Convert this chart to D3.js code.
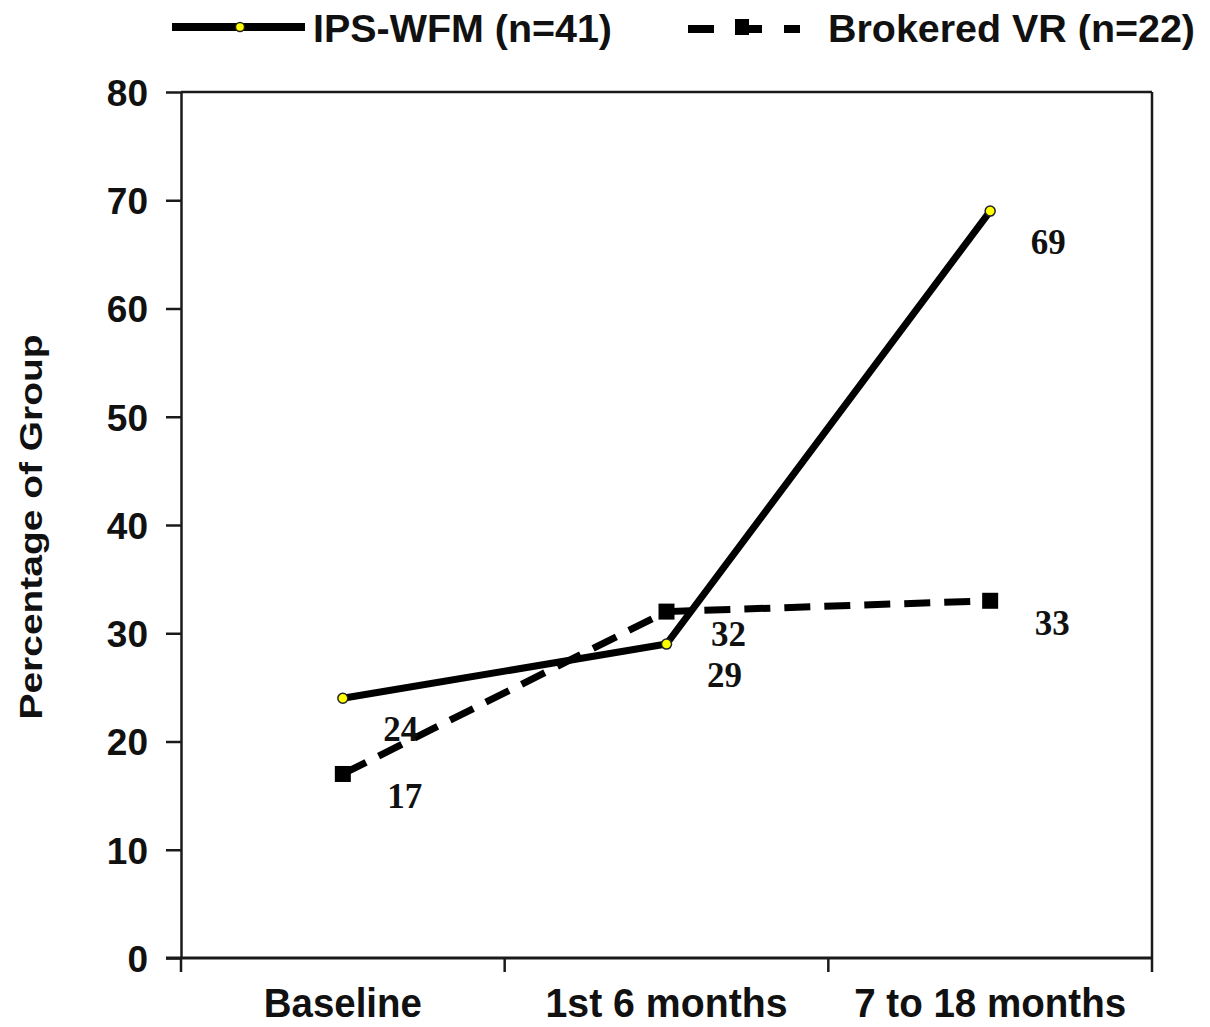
<!DOCTYPE html>
<html>
<head>
<meta charset="utf-8">
<script src="https://cdn.jsdelivr.net/npm/d3@7/dist/d3.min.js"></script>
<style>
  html, body { margin: 0; padding: 0; background: #fff; }
  svg { display: block; }
</style>
</head>
<body>
<svg id="chart" width="1210" height="1027"></svg>
<script>
const categories = ["Baseline", "1st 6 months", "7 to 18 months"];
const ipsValues = [24, 29, 69];
const brokeredValues = [17, 32, 33];
const seriesNames = ["IPS-WFM (n=41)", "Brokered VR (n=22)"];
const yTicks = [0, 10, 20, 30, 40, 50, 60, 70, 80];
const yTitle = "Percentage of Group";

const svg = d3.select("#chart");
const margin = { left: 181, right: 1152, top: 92, bottom: 958 };

const x = d3.scaleBand().domain(categories).range([margin.left, margin.right]);
const y = d3.scaleLinear().domain([0, 80]).range([margin.bottom, margin.top]);

const axisColor = "#1a1a1a";
const sansFont = "'Liberation Sans', Arial, sans-serif";
const serifFont = "'Liberation Serif', 'Times New Roman', serif";

// Frame (top & right)
svg.append("line").attr("x1", margin.left).attr("x2", margin.right)
  .attr("y1", margin.top).attr("y2", margin.top)
  .attr("stroke", axisColor).attr("stroke-width", 2.5);
svg.append("line").attr("x1", margin.right).attr("x2", margin.right)
  .attr("y1", margin.top).attr("y2", margin.bottom)
  .attr("stroke", axisColor).attr("stroke-width", 2.5);

// Y axis
const yAxis = svg.append("g").attr("transform", `translate(${margin.left},0)`)
  .call(d3.axisLeft(y).tickValues(yTicks).tickSize(15).tickSizeOuter(0).tickPadding(18));
yAxis.select(".domain").attr("stroke", axisColor).attr("stroke-width", 2.5);
yAxis.selectAll(".tick line").attr("stroke", axisColor).attr("stroke-width", 2.5);
yAxis.selectAll(".tick text").attr("fill", "#111")
  .attr("dy", "0.36em")
  .style("font-family", sansFont).style("font-weight", "bold").style("font-size", "37px");

// X axis with ticks at band boundaries
const xAxis = svg.append("g").attr("transform", `translate(0,${margin.bottom})`);
xAxis.append("line").attr("x1", margin.left - 15).attr("x2", margin.right)
  .attr("y1", 0).attr("y2", 0).attr("stroke", axisColor).attr("stroke-width", 3);
const boundaries = categories.map(c => x(c)).concat([x(categories[categories.length - 1]) + x.bandwidth()]);
xAxis.selectAll("line.xt").data(boundaries).enter().append("line")
  .attr("class", "xt")
  .attr("x1", d => d).attr("x2", d => d).attr("y1", 0).attr("y2", 14)
  .attr("stroke", axisColor).attr("stroke-width", 2.5);
const xLabelWidths = [158, 242, 272];
xAxis.selectAll("text.xl").data(categories).enter().append("text")
  .attr("class", "xl")
  .attr("x", d => x(d) + x.bandwidth() / 2)
  .attr("y", 59)
  .attr("text-anchor", "middle")
  .attr("textLength", (d, i) => xLabelWidths[i])
  .attr("lengthAdjust", "spacingAndGlyphs")
  .style("font-family", sansFont).style("font-weight", "bold").style("font-size", "40px")
  .attr("fill", "#111")
  .text(d => d);

// Y title
svg.append("text")
  .attr("transform", `translate(42,${(margin.top + margin.bottom) / 2 + 2}) rotate(-90)`)
  .attr("text-anchor", "middle")
  .attr("textLength", 385).attr("lengthAdjust", "spacingAndGlyphs")
  .style("font-family", sansFont).style("font-weight", "bold").style("font-size", "32px")
  .attr("fill", "#111")
  .text(yTitle);

const cx = d => x(d) + x.bandwidth() / 2;

const line = d3.line().x(d => cx(d.c)).y(d => y(d.v));
const ipsData = categories.map((c, i) => ({ c, v: ipsValues[i] }));
const brData = categories.map((c, i) => ({ c, v: brokeredValues[i] }));

// Brokered dashed line
svg.append("path").datum(brData).attr("d", line)
  .attr("fill", "none").attr("stroke", "#000").attr("stroke-width", 7)
  .attr("stroke-dasharray", "26,14");
svg.selectAll("rect.bm").data(brData).enter().append("rect")
  .attr("class", "bm")
  .attr("x", d => cx(d.c) - 8).attr("y", d => y(d.v) - 8)
  .attr("width", 16).attr("height", 16).attr("fill", "#000");

// IPS solid line
svg.append("path").datum(ipsData).attr("d", line)
  .attr("fill", "none").attr("stroke", "#000").attr("stroke-width", 7)
  .attr("stroke-linejoin", "miter");
svg.selectAll("circle.im").data(ipsData).enter().append("circle")
  .attr("class", "im")
  .attr("cx", d => cx(d.c)).attr("cy", d => y(d.v)).attr("r", 5)
  .attr("fill", "#ffff00").attr("stroke", "#222").attr("stroke-width", 1.5);

// Data labels
function labels(data, dx, dy, cls) {
  svg.selectAll("text." + cls).data(data).enter().append("text")
    .attr("class", cls)
    .attr("x", d => cx(d.c) + dx).attr("y", d => y(d.v) + dy)
    .attr("text-anchor", "middle")
    .style("font-family", serifFont).style("font-weight", "bold").style("font-size", "35px")
    .attr("fill", "#111")
    .text(d => d.v);
}
labels(ipsData, 58, 43, "il");
labels(brData, 62, 34, "bl");

// Legend
const lg = svg.append("g");
lg.append("line").attr("x1", 172).attr("x2", 305).attr("y1", 27).attr("y2", 27)
  .attr("stroke", "#000").attr("stroke-width", 8);
lg.append("circle").attr("cx", 240).attr("cy", 27).attr("r", 4.5)
  .attr("fill", "#ffff00").attr("stroke", "#222").attr("stroke-width", 1.5);
lg.append("text").attr("x", 313).attr("y", 42)
  .attr("textLength", 299).attr("lengthAdjust", "spacingAndGlyphs")
  .style("font-family", sansFont).style("font-weight", "bold").style("font-size", "39px")
  .attr("fill", "#111").text(seriesNames[0]);

lg.append("line").attr("x1", 688).attr("x2", 800).attr("y1", 29).attr("y2", 29)
  .attr("stroke", "#000").attr("stroke-width", 8).attr("stroke-dasharray", "26,22");
lg.append("rect").attr("x", 735).attr("y", 19).attr("width", 14).attr("height", 16).attr("fill", "#000");
lg.append("text").attr("x", 828).attr("y", 42)
  .attr("textLength", 367).attr("lengthAdjust", "spacingAndGlyphs")
  .style("font-family", sansFont).style("font-weight", "bold").style("font-size", "39px")
  .attr("fill", "#111").text(seriesNames[1]);
</script>
</body>
</html>
